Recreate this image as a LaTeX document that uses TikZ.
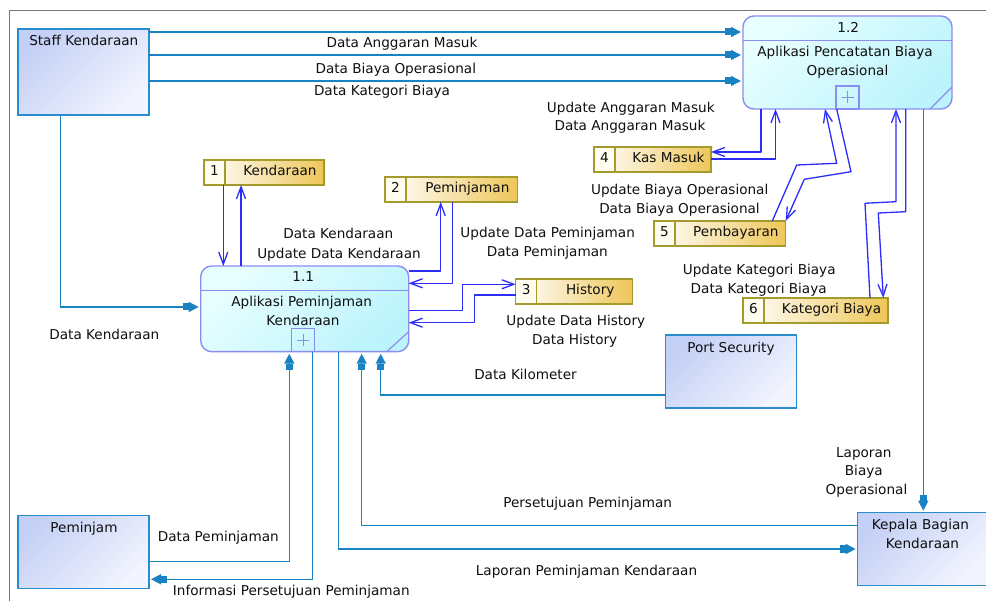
\documentclass[tikz,border=0pt]{standalone}
\usepackage{fontspec}
\setmainfont{DejaVu Sans}
\usetikzlibrary{arrows.meta,calc}

\definecolor{entborder}{RGB}{40,140,205}
\definecolor{entflow}{RGB}{25,130,195}
\definecolor{entA}{RGB}{196,208,245}
\definecolor{entB}{RGB}{242,244,254}
\definecolor{procborder}{RGB}{140,140,240}
\definecolor{procA}{RGB}{232,255,255}
\definecolor{procB}{RGB}{188,244,252}
\definecolor{stborder}{RGB}{165,155,45}
\definecolor{stgold}{RGB}{238,198,88}
\definecolor{stcell}{RGB}{255,253,240}
\definecolor{stflow}{RGB}{45,45,250}
\definecolor{framegray}{RGB}{120,120,120}
\definecolor{txt}{RGB}{15,15,15}

\begin{document}
\begin{tikzpicture}[x=1pt,y=-1pt, font=\fontsize{13.6}{19}\selectfont,
  ent/.style={draw=entborder, line width=1.5pt, top color=entA, bottom color=entB,
    shading angle=45, anchor=north west, inner sep=0, outer sep=0},
  proc/.style={draw=procborder, line width=1.4pt, rounded corners=11pt,
    top color=procA, bottom color=procB, shading angle=45,
    anchor=north west, inner sep=0, outer sep=0},
  procline/.style={draw=procborder, line width=1.2pt},
  plusbox/.style={draw=procborder, line width=1.2pt, minimum width=23pt,
    minimum height=23pt, inner sep=0, outer sep=0, anchor=south,
    path picture={
      \draw[procborder, line width=1pt]
        ([xshift=-6pt]path picture bounding box.center) --
        ([xshift=6pt]path picture bounding box.center)
        ([yshift=-6pt]path picture bounding box.center) --
        ([yshift=6pt]path picture bounding box.center);}},
  store/.style={draw=stborder, line width=1.4pt, fill=stcell, anchor=north west,
    inner sep=0, outer sep=0, minimum height=25pt, text=txt,
    text height=9.8pt, text depth=2.8pt,
    path picture={
      \shade[left color=white, right color=stgold]
        ([xshift=21pt]path picture bounding box.north west) rectangle
        (path picture bounding box.south east);
      \draw[stborder, line width=1.4pt]
        ([xshift=21pt]path picture bounding box.north west) --
        ([xshift=21pt]path picture bounding box.south west);}},
  stnum/.style={anchor=center, xshift=10.5pt, inner sep=0, text=txt,
    text height=9.8pt, text depth=2.8pt},
  lbl/.style={anchor=base, inner sep=0, text=txt},
  eflow/.style={draw=entflow, line width=1.5pt, shorten >=2pt,
    -{Rectangle[length=6pt,width=7pt]Triangle[length=10pt,width=10pt]}},
  sflow/.style={draw=stflow, line width=1.3pt, line join=round,
    -{Straight Barb[length=12pt,width=9pt]}},
]
\useasboundingbox (0,0) rectangle (986,601);

% outer frame
\draw[framegray, line width=1.3pt] (9.3,602) -- (9.3,10.7) -- (987,10.7);

% external entities
\node[ent, minimum width=131pt, minimum height=86pt] (staff) at (18,29) {};
\node[ent, minimum width=131pt, minimum height=72.6pt] (pem) at (18,515.7) {};
\node[ent, minimum width=131pt, minimum height=73pt] (port) at (665.7,335) {};
\node[ent, minimum width=131pt, minimum height=73pt] (kep) at (857.7,512.7) {};
\node[lbl] (tStaff) at (83.8,46) {Staff Kendaraan};
\node[lbl] (tPem) at (84,532.3) {Peminjam};
\node[lbl] (tPort) at (731,352.3) {Port Security};
\node[lbl] (tKep1) at (920.5,529.3) {Kepala Bagian};
\node[lbl] (tKep2) at (922.5,548.3) {Kendaraan};

% process 1.2
\node[proc, minimum width=209pt, minimum height=93pt] (p12) at (743,16) {};
\draw[procline] ($(p12.north west)+(0,24.7)$) -- ($(p12.north east)+(0,24.7)$);
\draw[procline] ($(p12.south east)+(-22,0)$) -- ($(p12.south east)+(0,-22)$);
\node[plusbox] (p12plus) at (p12.south -| 847.5,0) {};
\node[lbl] (tP12n) at (848.3,32.3) {1.2};
\node[lbl] (tP12a) at (845,56.5) {Aplikasi Pencatatan Biaya};
\node[lbl] (tP12b) at (847.5,75.5) {Operasional};

% process 1.1
\node[proc, minimum width=208pt, minimum height=85.7pt] (p11) at (200.7,266) {};
\draw[procline] ($(p11.north west)+(0,24.7)$) -- ($(p11.north east)+(0,24.7)$);
\draw[procline] ($(p11.south east)+(-22,0)$) -- ($(p11.south east)+(0,-20)$);
\node[plusbox] (p11plus) at (p11.south -| 303.3,0) {};
\node[lbl] (tP11n) at (303.3,281.7) {1.1};
\node[lbl] (tP11a) at (301.7,306.7) {Aplikasi Peminjaman};
\node[lbl] (tP11b) at (303,326) {Kendaraan};

% data stores
\node[store, minimum width=120pt, label={[stnum, name=st1n]west:1}] (st1) at (204,160) {\hspace*{32pt}Kendaraan};
\node[store, minimum width=132.7pt, label={[stnum, name=st2n]west:2}] (st2) at (385,177) {\hspace*{32pt}Peminjaman};
\node[store, minimum width=117pt, label={[stnum, name=st3n]west:3}] (st3) at (515.7,279) {\hspace*{32pt}History};
\node[store, minimum width=117pt, label={[stnum, name=st4n]west:4}] (st4) at (594,147) {\hspace*{32pt}Kas Masuk};
\node[store, minimum width=131.7pt, label={[stnum, name=st5n]west:5}] (st5) at (654,221) {\hspace*{32pt}Pembayaran};
\node[store, minimum width=145pt, label={[stnum, name=st6n]west:6}] (st6) at (743,298) {\hspace*{32pt}Kategori Biaya};

% flows between entities and processes
\draw[eflow] (staff.east |- 0,32) -- (p12.west |- 0,32);
\draw[eflow] (staff.east |- 0,55) -- (p12.west |- 0,55);
\draw[eflow] (staff.east |- 0,81) -- (p12.west |- 0,81);
\draw[eflow] (staff.south -| 60.7,0) |- (p11.west |- 0,307);
\draw[eflow] (pem.east |- 0,561.7) -| (p11.south -| 289.3,0);
\draw[eflow] (p11.south -| 312.7,0) |- (pem.east |- 0,579.3);
\draw[eflow] (p11.south -| 338.7,0) |- (kep.west |- 0,549);
\draw[eflow] (kep.west |- 0,525.7) -| (p11.south -| 361.7,0);
\draw[eflow] (port.west |- 0,395) -| (p11.south -| 380.7,0);
\draw[eflow] (p12.south -| 923.3,0) -- (kep.north -| 923.3,0);

% flows between processes and data stores
\draw[sflow] (st1.south -| 223.3,0) -- (p11.north -| 223.3,0);
\draw[sflow] (p11.north -| 241,0) -- (st1.south -| 241,0);
\draw[sflow] (p11.east |- 0,271) -| (st2.south -| 440.7,0);
\draw[sflow] (st2.south -| 452.3,0) |- (p11.east |- 0,283.3);
\draw[sflow] (p11.east |- 0,310.7) -- (462.7,310.7) |- (st3.west |- 0,284.3);
\draw[sflow] (st3.west |- 0,295) -- (474.3,295) |- (p11.east |- 0,322.7);
\draw[sflow] (p12.south -| 761,0) |- (st4.east |- 0,152);
\draw[sflow] (st4.east |- 0,159) -| (p12.south -| 775.5,0);
\draw[sflow] (st5.north -| 772.3,0) -- (796.7,165) -- (836.7,163.3) -- (p12.south -| 825,0);
\draw[sflow] (p12.south -| 836.7,0) -- (851,171.7) -- (804.3,179.3) -- (st5.north east);
\draw[sflow] (st6.north -| 870,0) -- (865,203.3) -- (896,201.7) -- (p12.south -| 896,0);
\draw[sflow] (p12.south -| 905.7,0) -- (905.7,211.7) -- (878.3,213) -- (st6.north -| 883.3,0);

% flow labels
\node[lbl] (f1) at (402,47.7) {Data Anggaran Masuk};
\node[lbl] (f2) at (395.8,74) {Data Biaya Operasional};
\node[lbl] (f3) at (382,95.7) {Data Kategori Biaya};
\node[lbl] (f4) at (630.8,112.7) {Update Anggaran Masuk};
\node[lbl] (f5) at (630,131) {Data Anggaran Masuk};
\node[lbl] (f6) at (338.3,239) {Data Kendaraan};
\node[lbl] (f7) at (339,258.3) {Update Data Kendaraan};
\node[lbl] (f8) at (547.7,237.7) {Update Data Peminjaman};
\node[lbl] (f9) at (547.3,256.7) {Data Peminjaman};
\node[lbl] (f10) at (575.8,326) {Update Data History};
\node[lbl] (f11) at (574.7,344.3) {Data History};
\node[lbl] (f12) at (679.7,195) {Update Biaya Operasional};
\node[lbl] (f13) at (679.5,214) {Data Biaya Operasional};
\node[lbl] (f14) at (759.2,275) {Update Kategori Biaya};
\node[lbl] (f15) at (758.7,294) {Data Kategori Biaya};
\node[lbl] (f16) at (104.3,340) {Data Kendaraan};
\node[lbl] (f17) at (218.3,541) {Data Peminjaman};
\node[lbl] (f18) at (291.3,595.7) {Informasi Persetujuan Peminjaman};
\node[lbl] (f19) at (525.5,380) {Data Kilometer};
\node[lbl] (f20a) at (863.8,457.3) {Laporan};
\node[lbl] (f20b) at (863.8,476) {Biaya};
\node[lbl] (f20c) at (866.5,494.3) {Operasional};
\node[lbl] (f21) at (587.7,507.3) {Persetujuan Peminjaman};
\node[lbl] (f22) at (586.5,576) {Laporan Peminjaman Kendaraan};
\end{tikzpicture}
\end{document}
